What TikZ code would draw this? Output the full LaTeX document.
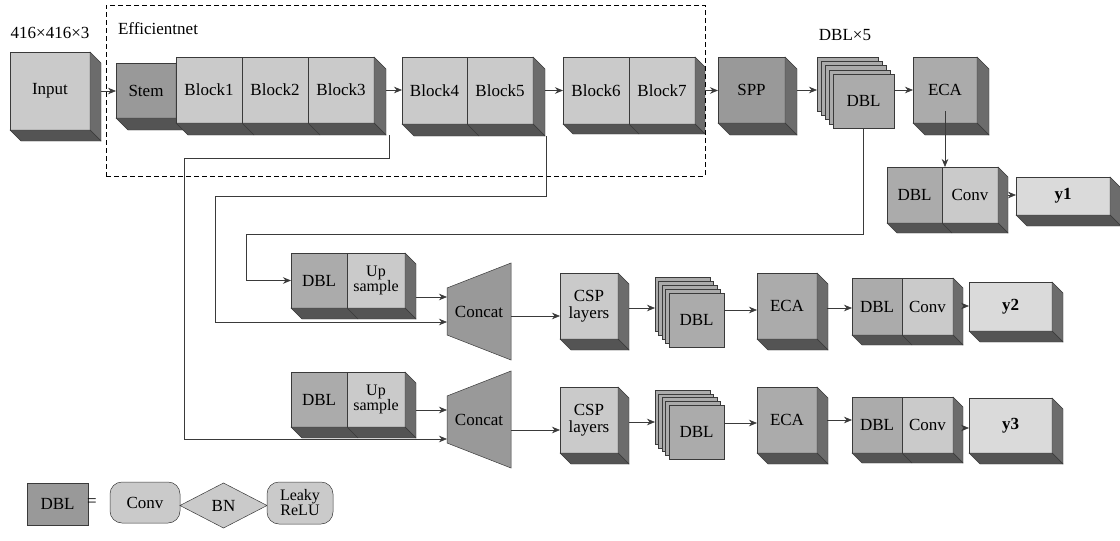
\documentclass[tikz,border=0pt]{standalone}
\usepackage{fontspec}
\setmainfont{Liberation Serif}
\usetikzlibrary{arrows.meta,calc,shapes.geometric}
\definecolor{lite}{HTML}{CACACA}
\definecolor{lite2}{HTML}{DADADA}
\definecolor{midg}{HTML}{ABABAB}
\definecolor{dark}{HTML}{999999}
\definecolor{side}{HTML}{6C6C6C}
\definecolor{bot}{HTML}{545454}
\definecolor{edge}{HTML}{3A3A3A}
\tikzset{
 face/.style={draw=edge, line width=0.5pt, inner sep=0pt, outer sep=0pt, anchor=north west, align=center, font=\fontsize{17}{17}\selectfont},
 fl/.style={face, fill=lite},
 fm/.style={face, fill=midg},
 fd/.style={face, fill=dark},
 fy/.style={face, fill=lite2, font=\fontsize{17}{17}\selectfont\bfseries},
 lbl/.style={inner sep=0pt, font=\fontsize{17}{17}\selectfont},
 arr/.style={draw=edge, line width=0.7pt, -{Stealth[length=8pt,width=6.5pt]}},
}
\newcommand\ext[3][12]{%
 \filldraw[fill=side,draw=edge,line width=0.4pt] (#3.north east) -- ++(#1,#1) -- ([shift={(#1,#1)}]#3.south east) -- (#3.south east) -- cycle;
 \filldraw[fill=bot,draw=edge,line width=0.4pt] (#2.south west) -- ++(#1,#1) -- ([shift={(#1,#1)}]#3.south east) -- (#3.south east) -- cycle;}
\newcommand\divline[2][12]{\draw[edge,line width=0.4pt] (#2.south east) -- ++(#1,#1);}
\newcommand\dblstack[7]{%
 \foreach \k in {4,3,2,1}{\filldraw[fill=midg,draw=edge,line width=0.5pt] (#2-\k*#6,#3-\k*#7) rectangle ++(#4,#5);}
 \node[fm, minimum width=#4, minimum height=#5] (#1) at (#2,#3) {DBL};
 \node[inner sep=0pt,outer sep=0pt,anchor=north west,minimum width=#4,minimum height=#5] (#1b) at (#2-4*#6,#3-4*#7) {};}
\newcommand\concat[3]{%
 \filldraw[fill=dark,draw=edge,line width=0.5pt] (#2-32,#3-23.5) -- (#2+32,#3-48.5) -- (#2+32,#3+48.5) -- (#2-32,#3+23.5) -- cycle;
 \node[lbl, minimum width=64, minimum height=97, outer sep=0pt] (#1) at (#2,#3) {Concat};}
\begin{document}
\begin{tikzpicture}[x=1pt,y=-1pt]
\useasboundingbox (0,0) rectangle (1120,541);
\fill[white] (0,0) rectangle (1120,541);

% labels
\node[lbl] (dim) at (50,33) {416×416×3};
\node[lbl] (effl) at (158,29) {Efficientnet};
\node[lbl] (dbl5) at (845,35) {DBL×5};

% ---------- row 1 ----------
\node[fl, minimum width=80, minimum height=78] (inp) at (10,52) {Input}; \ext[11]{inp}{inp}
\node[fd, minimum width=60, minimum height=55] (stem) at (116,63) {Stem}; \ext{stem}{stem}
\node[fl, minimum width=66, minimum height=66] (b1) at (176,57) {Block1};
\node[fl, minimum width=66, minimum height=66] (b2) at (242,57) {Block2};
\node[fl, minimum width=66, minimum height=66] (b3) at (308,57) {Block3};
\ext{b1}{b3}\divline{b1}\divline{b2}
\node[fl, minimum width=65, minimum height=67] (b4) at (402,57) {Block4};
\node[fl, minimum width=66, minimum height=67] (b5) at (467,57) {Block5};
\ext{b4}{b5}\divline{b4}
\node[fl, minimum width=66, minimum height=67] (b6) at (563,57) {Block6};
\node[fl, minimum width=66, minimum height=67] (b7) at (629,57) {Block7};
\ext[10]{b6}{b7}\divline[10]{b6}
\node[fd, minimum width=67, minimum height=66] (spp) at (718,57) {SPP}; \ext{spp}{spp}
\dblstack{dbl1}{833}{74}{61}{54}{4}{4.25}
\node[fm, minimum width=64, minimum height=66] (eca1) at (913,57) {ECA}; \ext{eca1}{eca1}
\node[fm, minimum width=55, minimum height=56] (dc1a) at (887,167) {DBL};
\node[fl, minimum width=56, minimum height=56] (dc1b) at (942,167) {Conv};
\ext[10]{dc1a}{dc1b}\divline[10]{dc1a}
\node[fy, minimum width=94, minimum height=38] (y1) at (1016,177) {y1}; \ext[11]{y1}{y1}

% efficientnet frame
\node[draw=black, line width=1pt, dash pattern=on 5pt off 3pt, minimum width=599, minimum height=171, anchor=north west, inner sep=0pt, outer sep=0pt] (eff) at (106,5) {};

% row 1 arrows
\draw[arr] ([xshift=11pt]inp.east) -- (inp.east -| stem.west);
\draw[arr] ([xshift=12pt]b3.east) -- (b3.east -| b4.west);
\draw[arr] ([xshift=12pt]b5.east) -- (b5.east -| b6.west);
\draw[arr] ([xshift=10pt]b7.east) -- (b7.east -| spp.west);
\draw[arr] ([xshift=12pt]spp.east) -- (spp.east -| dbl1b.west);
\draw[arr] (dbl1.east |- eca1.west) -- (eca1.west);
\draw[arr] ([yshift=12pt]eca1.south) -- (eca1.south |- dc1b.north);
\draw[arr] ([xshift=10pt]dc1b.east) -- (dc1b.east -| y1.west);

% ---------- row 2 ----------
\node[fm, minimum width=56, minimum height=55] (du2a) at (291,253) {DBL};
\node[fl, minimum width=58, minimum height=55, font=\fontsize{16}{14}\selectfont] (du2b) at (347,253) {Up\\sample};
\ext[11]{du2a}{du2b}\divline[11]{du2a}
\concat{cc2}{479}{311.5}
\node[fl, minimum width=58, minimum height=66] (csp2) at (560,273) {CSP\\layers}; \ext[11]{csp2}{csp2}
\dblstack{dbl2}{669}{293}{55}{54}{3.5}{4}
\node[fm, minimum width=60, minimum height=66] (eca2) at (757,273) {ECA}; \ext[11]{eca2}{eca2}
\node[fm, minimum width=50, minimum height=57] (dc2a) at (852,278) {DBL};
\node[fl, minimum width=51, minimum height=57] (dc2b) at (902,278) {Conv};
\ext[10]{dc2a}{dc2b}\divline[10]{dc2a}
\node[fy, minimum width=83, minimum height=49] (y2) at (969,282) {y2}; \ext[11]{y2}{y2}

\draw[arr] (du2b.east |- 0,297) ++(11,0) -- (cc2.west |- 0,297);
\draw[arr] (cc2.east |- 0,316) -- (csp2.west |- 0,316);
\draw[arr] (csp2.east |- 0,308) ++(11,0) -- (dbl2b.west |- 0,308);
\draw[arr] (dbl2.east |- 0,310) -- (eca2.west |- 0,310);
\draw[arr] (eca2.east |- 0,308) ++(10,0) -- (dc2a.west |- 0,308);
\draw[arr] (dc2b.east |- 0,306) ++(10,0) -- (y2.west |- 0,306);

% ---------- row 3 ----------
\node[fm, minimum width=56, minimum height=55] (du3a) at (291,372) {DBL};
\node[fl, minimum width=58, minimum height=55, font=\fontsize{16}{14}\selectfont] (du3b) at (347,372) {Up\\sample};
\ext[11]{du3a}{du3b}\divline[11]{du3a}
\concat{cc3}{479}{419.5}
\node[fl, minimum width=58, minimum height=66] (csp3) at (560,387) {CSP\\layers}; \ext[11]{csp3}{csp3}
\dblstack{dbl3}{669}{405}{55}{54}{3.5}{3.75}
\node[fm, minimum width=60, minimum height=66] (eca3) at (757,387) {ECA}; \ext[11]{eca3}{eca3}
\node[fm, minimum width=50, minimum height=56] (dc3a) at (852,397) {DBL};
\node[fl, minimum width=51, minimum height=56] (dc3b) at (902,397) {Conv};
\ext[10]{dc3a}{dc3b}\divline[10]{dc3a}
\node[fy, minimum width=83, minimum height=55] (y3) at (969,398) {y3}; \ext[11]{y3}{y3}

\draw[arr] (du3b.east |- 0,410) ++(11,0) -- (cc3.west |- 0,410);
\draw[arr] (cc3.east |- 0,430) -- (csp3.west |- 0,430);
\draw[arr] (csp3.east |- 0,422) ++(11,0) -- (dbl3b.west |- 0,422);
\draw[arr] (dbl3.east |- 0,423) -- (eca3.west |- 0,423);
\draw[arr] (eca3.east |- 0,420) ++(10,0) -- (dc3a.west |- 0,420);
\draw[arr] (dc3b.east |- 0,428) ++(10,0) -- (y3.west |- 0,428);

% ---------- feedback wires ----------
\coordinate (f1b) at (246,234);
\draw[arr] (dbl1.south) -- (dbl1.south |- f1b) -- (f1b) -- (f1b |- du2a.west) -- (du2a.west);
\coordinate (f2s) at ([shift={(13,12)}]b5.south east);
\coordinate (f2b) at (215,196);
\draw[arr] (f2s) -- (f2s |- f2b) -- (f2b) -- (f2b |- 0,322) -- (cc2.west |- 0,322);
\coordinate (f3s) at ([shift={(15,12)}]b3.south east);
\coordinate (f3b) at (184,158);
\draw[arr] (f3s) -- (f3s |- f3b) -- (f3b) -- (f3b |- 0,439) -- (cc3.west |- 0,439);

% ---------- legend ----------
\node[fd, minimum width=61, minimum height=42] (ldbl) at (27,483) {DBL};
\node[lbl] (leq) at (92,503) {=};
\node[fl, rounded corners=12pt, minimum width=70, minimum height=41] (lconv) at (110,482) {Conv};
\node[fl, diamond, anchor=center, minimum width=87, minimum height=45] (lbn) at (223.5,505.5) {BN};
\node[fl, rounded corners=12pt, minimum width=66, minimum height=42, font=\fontsize{16}{15}\selectfont] (lrelu) at (267,482) {Leaky\\ReLU};
\end{tikzpicture}
\end{document}
